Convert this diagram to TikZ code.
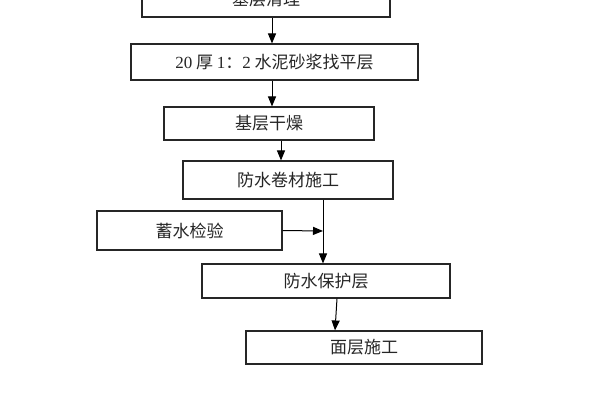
\documentclass[tikz,border=0pt]{standalone}
\usepackage{fontspec}
\setmainfont{Liberation Serif}
\newfontfamily\cjk{Noto Sans CJK SC}
\usetikzlibrary{arrows.meta, positioning, calc}

\begin{document}
\begin{tikzpicture}[x=1pt, y=-1pt, >={Triangle[length=10pt,width=8pt]},
    stepbox/.style={draw=black!85, line width=1.1pt, inner sep=0pt,
      font=\cjk\fontsize{17}{19}\selectfont, text=black!85},
    arr/.style={->, line width=1pt, black}]
      \clip (0,0) rectangle (596,400);
      \fill[white] (0,0) rectangle (596,400);

      \node[stepbox, minimum width=248, minimum height=36] (qingli) at (266,-1) {基层清理};
      \node[stepbox, minimum width=287, minimum height=36] (zhaoping) at (274.5,62)
        {{\rmfamily 20} 厚 {\rmfamily 1}：{\rmfamily 2} 水泥砂浆找平层};
      \node[stepbox, minimum width=210, minimum height=33] (ganzao) at (269,123.5) {基层干燥};
      \node[stepbox, minimum width=210, minimum height=38] (juancai) at (288,180) {防水卷材施工};
      \node[stepbox, minimum width=185, minimum height=39] (xushui) at (189.5,230.5) {蓄水检验};
      \node[stepbox, minimum width=248, minimum height=34] (baohu) at (326,281) {防水保护层};
      \node[stepbox, minimum width=236, minimum height=33] (mianceng) at (364,347.5) {面层施工};

      \coordinate (hui) at (323,231);

      \draw[arr] ([xshift=6]qingli.south) -- ([xshift=-2.5]zhaoping.north);
      \draw[arr] ([xshift=-2.5]zhaoping.south) -- ([xshift=3]ganzao.north);
      \draw[arr] ([xshift=12]ganzao.south) -- ([xshift=-7]juancai.north);
      \draw[arr] (juancai.south -| hui) -- (baohu.north -| hui);
      \draw[arr] (xushui.east) -- (hui);
      \draw[arr] ([xshift=11]baohu.south) -- ([xshift=-29]mianceng.north);
    \end{tikzpicture}
\end{document}
